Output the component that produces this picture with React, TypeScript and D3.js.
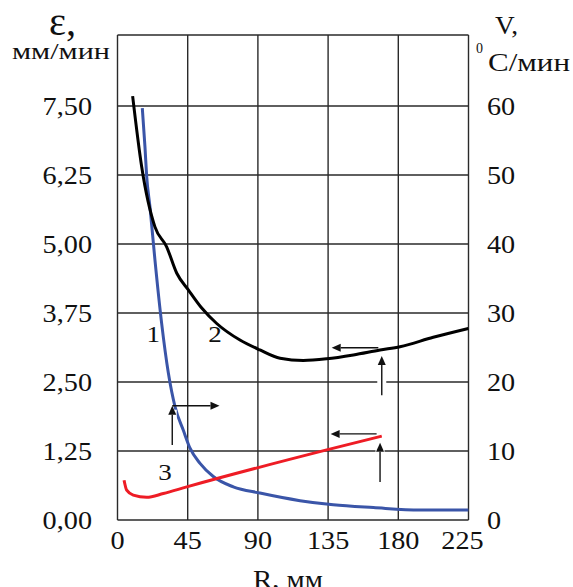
import React from "react";
import * as d3 from "d3";

const xTicks = [0, 45, 90, 135, 180, 225];
const leftTicks = [0, 1.25, 2.5, 3.75, 5.0, 6.25, 7.5];
const leftTickLabels = ["0,00", "1,25", "2,50", "3,75", "5,00", "6,25", "7,50"];
const rightTicks = [0, 10, 20, 30, 40, 50, 60];

// Curve 1 (blue) — V, °C/min (right axis)
const curve1R = [15.9, 17.6, 18.7, 20.8, 24.0, 28.3, 32.6, 36.9, 42.2, 46.5, 52.9, 61.4, 74.2, 91.3, 117, 138.3, 164, 193.9, 224.9];
const curve1V = [59.7, 54.1, 49.8, 45.4, 37.7, 28.5, 21.3, 16.4, 13.0, 10.4, 8.2, 6.3, 4.8, 3.9, 2.8, 2.2, 1.8, 1.45, 1.45];

// Curve 2 (black) — ε, mm/min (left axis)
const curve2R = [9.7, 15.5, 24, 31.5, 38, 45.4, 54, 63.6, 78.5, 91.3, 104.2, 119.1, 134.1, 151.2, 168.3, 181.1, 202.4, 224.9];
const curve2E = [7.68, 6.4, 5.31, 4.95, 4.47, 4.17, 3.84, 3.56, 3.26, 3.08, 2.93, 2.89, 2.92, 2.99, 3.08, 3.14, 3.31, 3.47];

// Curve 3 (red) — ε, mm/min (left axis)
const curve3R = [4.2, 5.9, 10.1, 18.7, 29.4, 44.4, 134.1, 169.4];
const curve3E = [0.72, 0.54, 0.45, 0.41, 0.48, 0.6, 1.27, 1.52];

// Curve labels [R, ε]
const curveLabels = ["1", "2", "3"];
const labelR = [23, 62.5, 30.5];
const labelE = [3.23, 3.23, 0.73];

// Annotation arrows: [R1, E1, R2, E2] from -> to (tip)
const arrows: number[][] = [
  [35.1, 1.36, 35.1, 2.07],
  [35.1, 2.07, 65.4, 2.07],
  [169.4, 2.26, 169.4, 2.97],
  [167.2, 3.12, 137.3, 3.12],
  [168.3, 0.69, 168.3, 1.4],
  [166.1, 1.56, 136.6, 1.56],
];

const W = 573;
const H = 587;
const left = 117.5;
const right = 468.5;
const bottom = 520;
const top7 = 106;
const plotTop = 35;

const FONT = "'Liberation Serif', 'Times New Roman', serif";
const SX = 1.13;

function T({ x, y, anchor = "start", size = 25, children, sx = SX, sy = 1 }: any) {
  return (
    <text
      transform={`translate(${x},${y}) scale(${sx},${sy})`}
      textAnchor={anchor}
      fontFamily={FONT}
      fontSize={size}
      fill="#111"
    >
      {children}
    </text>
  );
}

export default function App() {
  const x = d3.scaleLinear().domain([0, 225]).range([left, right]);
  const yL = d3.scaleLinear().domain([0, 7.5]).range([bottom, top7]);
  const yR = d3.scaleLinear().domain([0, 60]).range([bottom, top7]);

  const lineL = d3
    .line<[number, number]>()
    .x((d) => x(d[0]))
    .y((d) => yL(d[1]))
    .curve(d3.curveMonotoneX);
  const lineR = d3
    .line<[number, number]>()
    .x((d) => x(d[0]))
    .y((d) => yR(d[1]))
    .curve(d3.curveMonotoneX);

  const c1 = curve1R.map((r, i) => [r, curve1V[i]] as [number, number]);
  const c2 = curve2R.map((r, i) => [r, curve2E[i]] as [number, number]);
  const c3 = curve3R.map((r, i) => [r, curve3E[i]] as [number, number]);

  const grid = "#2a2a2a";

  return (
    <svg
      width={W}
      height={H}
      style={{ position: "absolute", left: 0, top: 0, background: "#fff" }}
    >
      <rect x={0} y={0} width={W} height={H} fill="#fff" />
      {/* grid */}
      {xTicks.map((t) => (
        <line key={"vx" + t} x1={x(t)} x2={x(t)} y1={plotTop} y2={bottom} stroke={grid} strokeWidth={1.4} />
      ))}
      {leftTicks.map((t) => (
        <line key={"hy" + t} x1={left} x2={right} y1={yL(t)} y2={yL(t)} stroke={grid} strokeWidth={1.4} />
      ))}
      <line x1={left} x2={right} y1={plotTop} y2={plotTop} stroke={grid} strokeWidth={1.4} />

      {/* curves */}
      <path d={lineR(c1) || ""} fill="none" stroke="#3a55a8" strokeWidth={3} />
      <path d={lineL(c2) || ""} fill="none" stroke="#000" strokeWidth={3} />
      <path d={lineL(c3) || ""} fill="none" stroke="#ee1c25" strokeWidth={3} />

      {/* arrows */}
      {arrows.map((a, i) => {
        const x1 = x(a[0]);
        const y1 = yL(a[1]);
        const x2 = x(a[2]);
        const y2 = yL(a[3]);
        const ang = Math.atan2(y2 - y1, x2 - x1);
        const L = 9;
        const w = 4;
        const bx = x2 - L * Math.cos(ang);
        const by = y2 - L * Math.sin(ang);
        const px = -Math.sin(ang) * w;
        const py = Math.cos(ang) * w;
        const vertical = Math.abs(x1 - x2) < 0.5;
        return (
          <g key={"ar" + i}>
            {vertical && (
              <line x1={x1} x2={x2} y1={y1} y2={y2 + 4} stroke="#fff" strokeWidth={9} />
            )}
            <line x1={x1} x2={bx} y1={y1} y2={by} stroke="#111" strokeWidth={1.4} />
            <polygon
              points={`${x2},${y2} ${bx + px},${by + py} ${bx - px},${by - py}`}
              fill="#111"
            />
          </g>
        );
      })}

      {/* curve labels */}
      {curveLabels.map((l, i) => (
        <T key={"cl" + l} x={x(labelR[i])} y={yL(labelE[i])} anchor="middle" size={24}>
          {l}
        </T>
      ))}

      {/* left tick labels */}
      {leftTicks.map((t, i) => (
        <T key={"lt" + t} x={92} y={yL(t) + 8.5} anchor="end">
          {leftTickLabels[i]}
        </T>
      ))}
      {/* right tick labels */}
      {rightTicks.map((t) => (
        <T key={"rt" + t} x={487} y={yR(t) + 8.5}>
          {String(t)}
        </T>
      ))}
      {/* x tick labels */}
      {xTicks.map((t) => (
        <T key={"xt" + t} x={t === 225 ? x(t) - 6 : x(t)} y={549} anchor="middle">
          {String(t)}
        </T>
      ))}

      {/* axis titles */}
      <T x={49} y={35} size={30} sx={1.35} sy={1.35}>
        ε,
      </T>
      <text x={12} y={59} fontFamily={FONT} fontSize={24} fill="#111" textLength={98} lengthAdjust="spacingAndGlyphs">
        мм/мин
      </text>
      <T x={495} y={34} size={26} sx={1.05}>
        V,
      </T>
      <text x={476} y={53} fontFamily={FONT} fontSize={14} fill="#111">
        0
      </text>
      <text x={488} y={71} fontFamily={FONT} fontSize={25} fill="#111" textLength={82} lengthAdjust="spacingAndGlyphs">
        С/мин
      </text>
      <text x={253} y={588} fontFamily={FONT} fontSize={25} fill="#111" textLength={70} lengthAdjust="spacingAndGlyphs">
        R, мм
      </text>
    </svg>
  );
}
